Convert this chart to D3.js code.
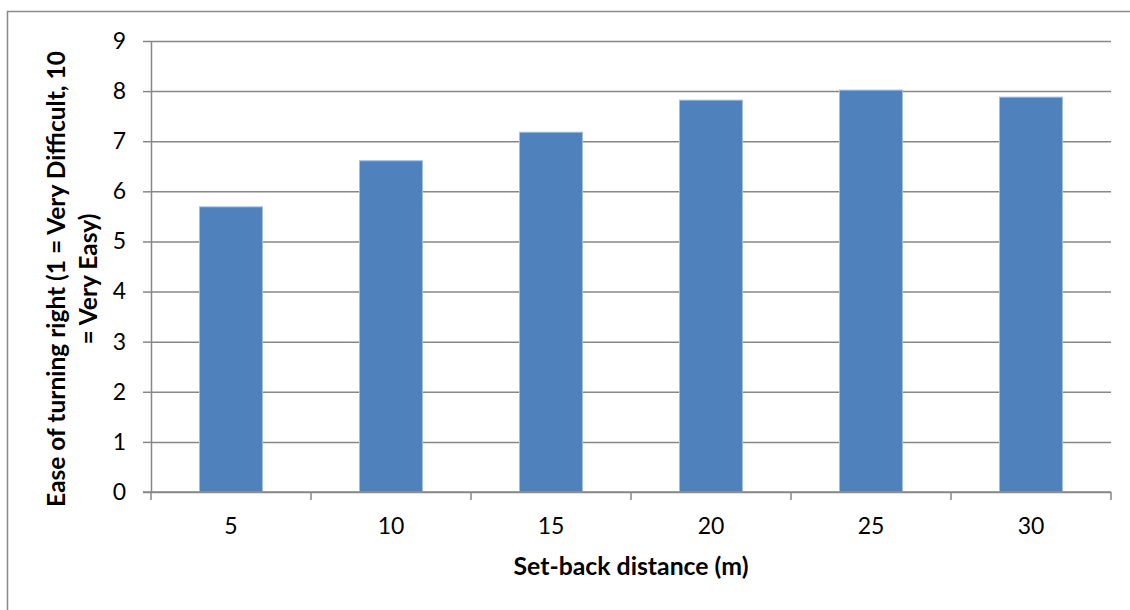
<!DOCTYPE html>
<html>
<head>
<meta charset="utf-8">
<script src="https://cdn.jsdelivr.net/npm/d3@7"></script>
<style>
  html, body { margin: 0; padding: 0; background: #fff; }
  svg { display: block; font-family: Lato, "Open Sans", sans-serif; }
</style>
</head>
<body>
<svg id="chart" width="1130" height="610"></svg>
<script>
// Mean rating of how easy the right turn was, by set-back distance
const categories = ["5", "10", "15", "20", "25", "30"];
const values = [5.69, 6.61, 7.18, 7.82, 8.02, 7.88];
const yTicks = [0, 1, 2, 3, 4, 5, 6, 7, 8, 9];
const xTitle = "Set-back distance (m)";
const yTitleLines = ["Ease of turning right (1 = Very Difficult, 10", "= Very Easy)"];

const W = 1130, H = 610;
const plot = { left: 151, right: 1111, top: 41, bottom: 492 };
const gridColor = "#878787";
const barFill = "#4f81bd";
const barEdge = "#a3bfe0";

const svg = d3.select("#chart");

// chart frame
svg.append("rect")
  .attr("x", 7.5).attr("y", 11.5)
  .attr("width", W).attr("height", H)
  .attr("fill", "#fff")
  .attr("stroke", "#8a8a8a")
  .attr("stroke-width", 1.5);

const x = d3.scaleBand()
  .domain(categories)
  .range([plot.left, plot.right])
  .paddingInner(0.6)
  .paddingOuter(0.3);

const y = d3.scaleLinear()
  .domain([0, 9])
  .range([plot.bottom, plot.top]);

// horizontal gridlines (extend through the left tick marks)
const grid = svg.append("g")
  .attr("transform", `translate(${plot.left},0)`)
  .call(d3.axisLeft(y).tickValues(yTicks).tickSizeInner(-(plot.right - plot.left)).tickSizeOuter(0).tickFormat(""));
grid.select(".domain").remove();
grid.selectAll(".tick line").attr("stroke", gridColor).attr("stroke-width", 1.5);

// y axis with tick marks and labels
const yAxis = svg.append("g")
  .attr("transform", `translate(${plot.left},0)`)
  .call(d3.axisLeft(y).tickValues(yTicks).tickSizeInner(8).tickSizeOuter(0).tickPadding(17));
yAxis.select(".domain").attr("stroke", gridColor).attr("stroke-width", 1.5);
yAxis.selectAll(".tick line").attr("stroke", gridColor).attr("stroke-width", 1.5);
yAxis.selectAll(".tick text")
  .attr("fill", "#000")
  .style("font-size", "23px")
  .style("font-family", "Lato, 'Open Sans', sans-serif");

// bars
svg.append("g").selectAll("rect")
  .data(values)
  .join("rect")
  .attr("x", (d, i) => x(categories[i]) + 0.5)
  .attr("y", d => y(d))
  .attr("width", x.bandwidth() - 1)
  .attr("height", d => y(0) - y(d))
  .attr("fill", barFill)
  .attr("stroke", barEdge)
  .attr("stroke-width", 1);

// x axis: labels centred under bars, tick marks on category boundaries
const xAxis = svg.append("g")
  .attr("transform", `translate(0,${plot.bottom})`)
  .call(d3.axisBottom(x).tickSize(0).tickPadding(26));
xAxis.select(".domain").remove();
xAxis.selectAll(".tick text")
  .attr("fill", "#000")
  .style("font-size", "23px")
  .style("font-family", "Lato, 'Open Sans', sans-serif");

const gap = (x.step() - x.bandwidth()) / 2;
const boundaries = categories.map(c => x(c) - gap).concat([plot.right]);
svg.append("g").selectAll("line")
  .data(boundaries)
  .join("line")
  .attr("x1", d => d).attr("x2", d => d)
  .attr("y1", plot.bottom).attr("y2", plot.bottom + 8)
  .attr("stroke", gridColor).attr("stroke-width", 1.5);

svg.append("line")
  .attr("x1", plot.left - 8).attr("x2", plot.right)
  .attr("y1", y(0)).attr("y2", y(0))
  .attr("stroke", gridColor).attr("stroke-width", 1.5);

// size a bold title so that it spans the given width
function fitSize(sel, target) {
  sel.style("font-size", "20px");
  const w = sel.node().getComputedTextLength();
  const size = 20 * target / w;
  sel.style("font-size", size + "px");
  return size;
}

const xt = svg.append("text")
  .attr("x", (plot.left + plot.right) / 2)
  .attr("y", 575)
  .attr("text-anchor", "middle")
  .attr("font-weight", "bold")
  .attr("fill", "#000")
  .text(xTitle);
fitSize(xt, 235);

const yt1 = svg.append("text")
  .attr("transform", "translate(65,279) rotate(-90)")
  .attr("text-anchor", "middle")
  .attr("font-weight", "bold")
  .attr("fill", "#000")
  .text(yTitleLines[0]);
const ySize = fitSize(yt1, 456);

svg.append("text")
  .attr("transform", "translate(97,279) rotate(-90)")
  .attr("text-anchor", "middle")
  .attr("font-weight", "bold")
  .attr("fill", "#000")
  .style("font-size", ySize + "px")
  .text(yTitleLines[1]);
</script>
</body>
</html>
